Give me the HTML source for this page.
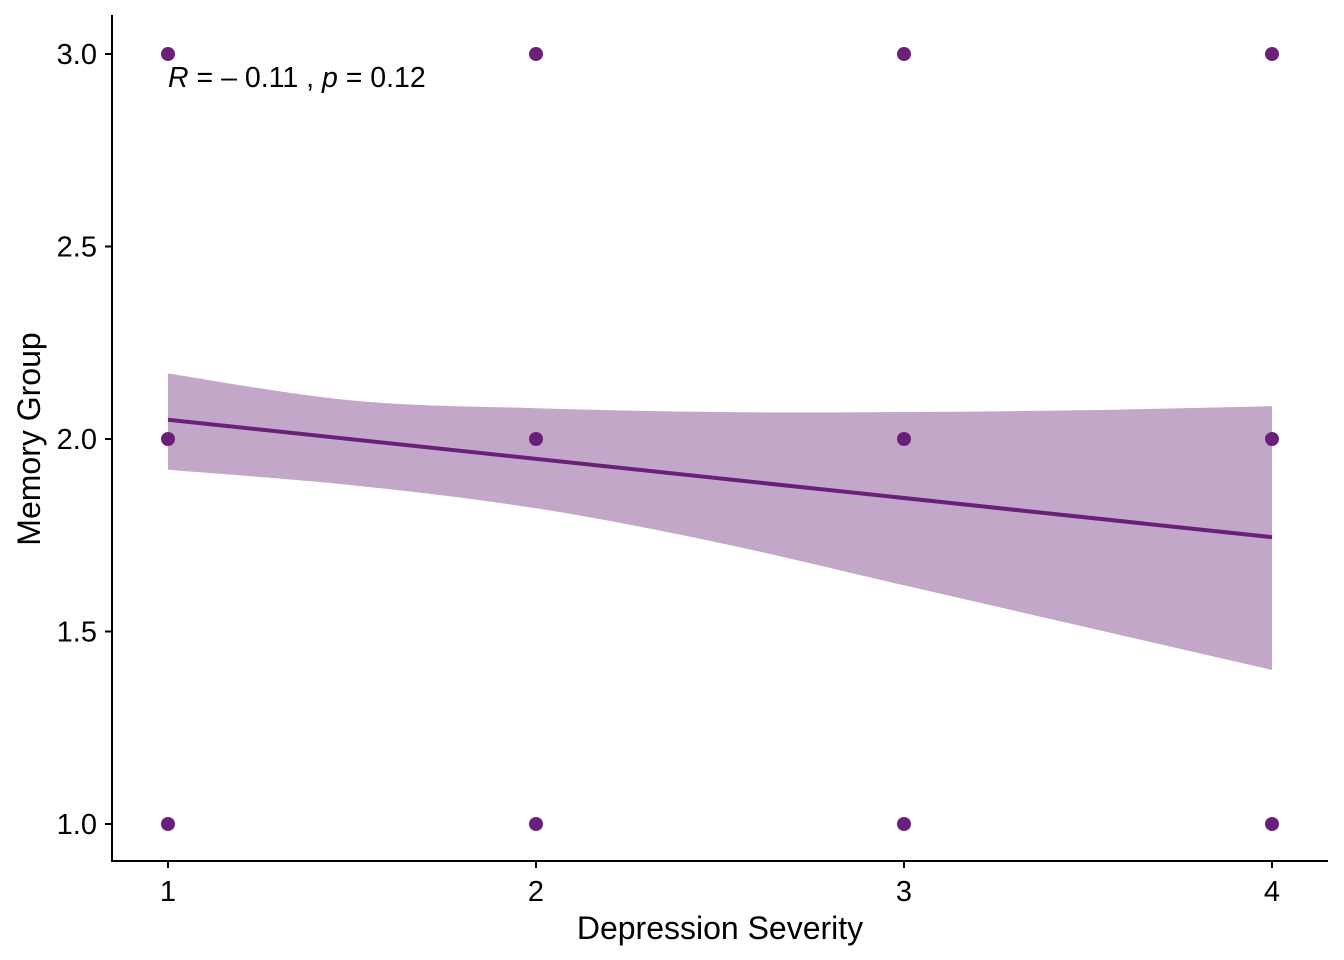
<!DOCTYPE html>
<html><head><meta charset="utf-8"><style>
html,body{margin:0;padding:0;background:#fff}
svg{display:block;font-family:"Liberation Sans",Arial,sans-serif}
</style></head><body>
<svg id="chart" width="1344" height="960"></svg>
<script>
const pointsX = [1,1,1,2,2,2,3,3,3,4,4,4];
const pointsY = [3,2,1,3,2,1,3,2,1,3,2,1];
const bandX = [1,1.5,2,2.5,3,3.5,4];
const bandUpper = [2.17,2.10,2.08,2.07,2.07,2.075,2.085];
const bandLower = [1.92,1.88,1.82,1.73,1.62,1.51,1.40];
const fitX = [1,4];
const fitY = [2.05,1.745];
const xTicks = [1,2,3,4];
const yTicks = [1.0,1.5,2.0,2.5,3.0];

const NS="http://www.w3.org/2000/svg";
const svg=document.getElementById('chart');
const sx=v=>168+(v-1)*368;
const sy=v=>824-(v-1)*385;
function mk(t,a,p){const e=document.createElementNS(NS,t);for(const k in a)e.setAttribute(k,a[k]);(p||svg).appendChild(e);return e;}

function smooth(P,start){
  let d=start?'M'+P[0][0]+','+P[0][1]:'L'+P[0][0]+','+P[0][1];
  for(let i=0;i<P.length-1;i++){
    const p0=P[Math.max(i-1,0)],p1=P[i],p2=P[i+1],p3=P[Math.min(i+2,P.length-1)];
    const c1=[p1[0]+(p2[0]-p0[0])/6,p1[1]+(p2[1]-p0[1])/6];
    const c2=[p2[0]-(p3[0]-p1[0])/6,p2[1]-(p3[1]-p1[1])/6];
    d+=' C'+c1+' '+c2+' '+p2;
  }
  return d;
}
const up=bandX.map((x,i)=>[sx(x),sy(bandUpper[i])]);
const lo=bandX.map((x,i)=>[sx(x),sy(bandLower[i])]).reverse();
const band=mk('path',{d:smooth(up,true)+' '+smooth(lo,false)+' Z',fill:'#c3a7c9'});



pointsX.forEach((x,i)=>{
  const c=mk('circle',{cx:sx(x),cy:sy(pointsY[i]),r:7,fill:'#6a2079'});
  
  
});

const fl=mk('line',{x1:sx(fitX[0]),y1:sy(fitY[0]),x2:sx(fitX[1]),y2:sy(fitY[1]),stroke:'#6a2079','stroke-width':4});



const xa=mk('line',{x1:112,y1:861,x2:1328,y2:861,stroke:'#000','stroke-width':2});


const ya=mk('line',{x1:112,y1:15,x2:112,y2:862,stroke:'#000','stroke-width':2});



xTicks.forEach(v=>{
  mk('line',{x1:sx(v),y1:861,x2:sx(v),y2:868,stroke:'#000','stroke-width':2});
  const t=mk('text',{x:sx(v),y:901,'text-anchor':'middle','font-size':29,fill:'#000'});
  t.textContent=v;
  
  
});
yTicks.forEach(v=>{
  mk('line',{x1:105,y1:sy(v),x2:112,y2:sy(v),stroke:'#000','stroke-width':2});
  const t=mk('text',{x:97,y:sy(v)+10,'text-anchor':'end','font-size':29,fill:'#000'});
  t.textContent=v.toFixed(1);
  
  
});

const xt=mk('text',{x:720,y:939,'text-anchor':'middle','font-size':32,fill:'#000'});
xt.textContent='Depression Severity';


const yt=mk('text',{x:0,y:0,'text-anchor':'middle','font-size':32,fill:'#000',transform:'translate(40,439) rotate(-90)'});
yt.textContent='Memory Group';



const an=mk('text',{x:168,y:87,'font-size':28.5,fill:'#000'});
an.innerHTML='<tspan font-style="italic">R</tspan> = \u2013 0.11 , <tspan font-style="italic">p</tspan> = 0.12';


</script>
</body></html>
